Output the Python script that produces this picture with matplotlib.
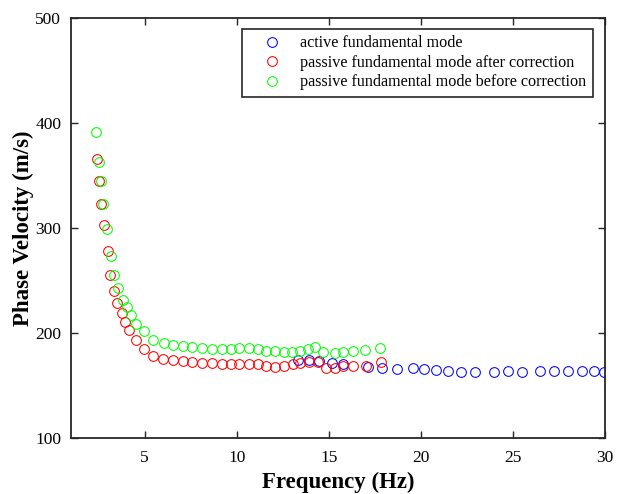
import numpy as np
import matplotlib
matplotlib.use('Agg')
import matplotlib.pyplot as plt

plt.rcParams['font.family'] = ['Liberation Serif', 'DejaVu Serif']

# -----------------------------
# DATA
# -----------------------------
active_f = [13.35, 13.93, 14.48, 15.17, 15.75, 17.14, 17.89, 18.73, 19.55,
            20.15, 20.82, 21.46, 22.17, 22.93, 23.95, 24.71, 25.49, 26.45,
            27.21, 27.97, 28.76, 29.42, 29.93]
active_v = [174.3, 174.5, 172.9, 171.9, 170.5, 167.6, 167.1, 165.6, 166.2,
            165.7, 164.3, 163.8, 162.9, 162.6, 162.6, 163.8, 163.1, 164.1,
            164.1, 163.8, 164.1, 163.8, 162.6]

after_f = [2.39, 2.52, 2.61, 2.78, 2.99, 3.14, 3.36, 3.52, 3.75, 3.93,
           4.17, 4.53, 4.95, 5.47, 6.02, 6.56, 7.07, 7.59, 8.10, 8.65,
           9.19, 9.68, 10.15, 10.69, 11.18, 11.60, 12.09, 12.59, 13.03, 13.45,
           13.90, 14.44, 14.86, 15.31, 15.77, 16.34, 17.02, 17.85]
after_v = [366, 345, 322.6, 302.9, 277.8, 255.5, 240, 228.9, 218.7, 210,
           202.5, 193, 184.6, 178.4, 175.2, 174.3, 173.3, 172.7, 171.7, 171.1,
           170.8, 170.5, 170.5, 170.8, 170.2, 168.9, 167.9, 168.9, 170.5, 171.7,
           172.1, 172.1, 167, 166.4, 168.9, 168.9, 168.9, 172.1]

before_f = [2.36, 2.54, 2.63, 2.74, 2.97, 3.16, 3.36, 3.57, 3.81, 4.02,
            4.26, 4.53, 4.97, 5.47, 6.05, 6.56, 7.07, 7.59, 8.10, 8.65,
            9.19, 9.68, 10.15, 10.69, 11.18, 11.60, 12.09, 12.59, 12.99, 13.41,
            13.86, 14.26, 14.71, 15.31, 15.77, 16.31, 16.94, 17.79]
before_v = [391, 362.6, 345, 323, 299, 273, 255.5, 242.5, 231.4, 224.5,
            217.4, 209, 201.9, 193.3, 190.2, 188.6, 187.9, 187, 185.4, 184.8,
            184.5, 184.5, 185.4, 185.4, 184.8, 182.9, 182.9, 182.2, 182.2, 182.9,
            184.5, 186.4, 181.6, 181.2, 181.6, 182.9, 184.1, 186.0]

labels = ['active fundamental mode',
          'passive fundamental mode after correction',
          'passive fundamental mode before correction']
x_ticks = [5, 10, 15, 20, 25, 30]
y_ticks = [100, 200, 300, 400, 500]

# -----------------------------
# PLOT
# -----------------------------
fig = plt.figure(figsize=(6.2, 4.94), dpi=100)
ax = fig.add_axes([71/620, 1-438/494, (605-71)/620, (438-18)/494])

mk = dict(linestyle='none', marker='o', markersize=7.0,
          markerfacecolor='none', markeredgewidth=0.75)
ax.plot(active_f, active_v, color=(0, 0, 1), label=labels[0], **mk)
ax.plot(after_f, after_v, color=(1, 0, 0), label=labels[1], **mk)
ax.plot(before_f, before_v, color=(0, 1, 0), label=labels[2], **mk)

ax.set_xlim(1, 30)
ax.set_ylim(100, 500)
ax.set_xticks(x_ticks)
ax.set_yticks(y_ticks)
ax.tick_params(direction='in', top=True, right=True, length=5, width=1,
               labelsize=12.5, pad=7, color='0.15')
ax.tick_params(axis='x', pad=8.5)
for s in ax.spines.values():
    s.set_linewidth(1.3)
    s.set_color('0.15')

ax.set_xlabel('Frequency (Hz)', fontsize=16.5, fontweight='bold', labelpad=4)
ax.set_ylabel('Phase Velocity (m/s)', fontsize=16.5, fontweight='bold', labelpad=1)

leg = ax.legend(loc='upper right', bbox_to_anchor=(0.9775, 0.974),
                borderaxespad=0, fontsize=11.6, fancybox=False,
                edgecolor='0.15', framealpha=1, numpoints=1,
                handlelength=2.95, handletextpad=0.3, labelspacing=0.22,
                borderpad=0.4)
leg.get_frame().set_linewidth(1.2)

fig.savefig('out.png', dpi=100)
